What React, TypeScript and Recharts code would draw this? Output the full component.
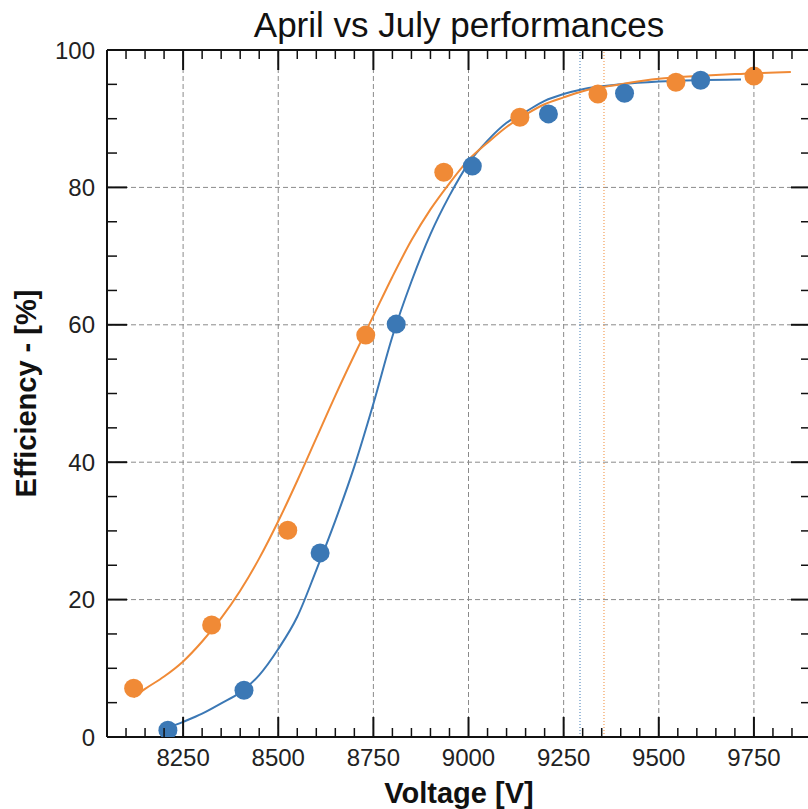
import React from 'react';
import {
  ComposedChart,
  Line,
  Scatter,
  XAxis,
  YAxis,
  ReferenceLine,
} from 'recharts';

const TITLE = 'April vs July performances';
const X_TITLE = 'Voltage [V]';
const Y_TITLE = 'Efficiency - [%]';

const BLUE = '#3b78b5';
const ORANGE = '#f08a36';

// measured points
const aprilVoltage = [8210, 8410, 8610, 8810, 9010, 9210, 9410, 9610];
const aprilEff = [1.0, 6.8, 26.8, 60.1, 83.1, 90.7, 93.7, 95.6];
const julyVoltage = [8120, 8325, 8525, 8730, 8935, 9135, 9340, 9545, 9750];
const julyEff = [7.1, 16.3, 30.1, 58.5, 82.2, 90.2, 93.6, 95.3, 96.2];

// fitted curves
const aprilFitVoltage = [8210, 8250, 8300, 8350, 8400, 8450, 8500, 8550, 8600, 8650, 8700, 8750, 8800, 8850, 8900, 8950, 9000, 9050, 9100, 9150, 9200, 9250, 9300, 9400, 9500, 9600, 9716];
const aprilFitEff = [1.3, 2.2, 3.4, 4.9, 6.5, 9.0, 12.8, 17.5, 24.3, 31.5, 39.4, 48.5, 58.3, 66.3, 73.2, 78.8, 83.5, 86.8, 89.4, 91.0, 92.6, 93.6, 94.3, 95.0, 95.4, 95.6, 95.7];
const julyFitVoltage = [8120, 8150, 8200, 8250, 8300, 8350, 8400, 8450, 8500, 8550, 8600, 8650, 8700, 8750, 8800, 8850, 8900, 8950, 9000, 9050, 9100, 9150, 9200, 9250, 9300, 9400, 9500, 9600, 9700, 9847];
const julyFitEff = [5.8, 7.0, 8.8, 11.0, 13.9, 17.3, 21.3, 26.0, 31.4, 37.3, 43.5, 49.7, 55.6, 61.3, 67.0, 72.3, 76.8, 80.6, 84.0, 86.5, 88.8, 90.6, 92.1, 93.1, 94.0, 95.0, 95.8, 96.2, 96.5, 96.8];

// thresholds (dotted verticals)
const aprilThreshold = 9293;
const julyThreshold = 9356;

const X_DOMAIN = [8050, 9900];
const xMajorTicks = [8250, 8500, 8750, 9000, 9250, 9500, 9750];
const yMajorTicks = [0, 20, 40, 60, 80, 100];
const xTicks: number[] = [];
for (let v = 8100; v <= 9850; v += 50) xTicks.push(v);
const yTicks: number[] = [];
for (let v = 0; v <= 100; v += 5) yTicks.push(v);

const zip = (xs: number[], ys: number[]) => xs.map((v, i) => ({ v, eff: ys[i] }));
const aprilPoints = zip(aprilVoltage, aprilEff);
const julyPoints = zip(julyVoltage, julyEff);
const aprilFit = zip(aprilFitVoltage, aprilFitEff);
const julyFit = zip(julyFitVoltage, julyFitEff);

const isMajorX = (v: number) => xMajorTicks.includes(v);
const isMajorY = (v: number) => yMajorTicks.includes(v);

const BottomTick = ({ x, y, payload }: any) => {
  const major = isMajorX(payload.value);
  return (
    <g>
      <line x1={x} y1={y} x2={x} y2={y - (major ? 20 : 9)} stroke="#111" strokeWidth={major ? 2 : 1.5} />
      {major && (
        <text x={x} y={y + 29} textAnchor="middle" fontSize={24} fill="#222">
          {payload.value}
        </text>
      )}
    </g>
  );
};

const TopTick = ({ x, y, payload }: any) => {
  const major = isMajorX(payload.value);
  return <line x1={x} y1={y} x2={x} y2={y + (major ? 20 : 9)} stroke="#111" strokeWidth={major ? 2 : 1.5} />;
};

const LeftTick = ({ x, y, payload }: any) => {
  const major = isMajorY(payload.value);
  return (
    <g>
      <line x1={x} y1={y} x2={x + (major ? 20 : 10)} y2={y} stroke="#111" strokeWidth={major ? 2 : 1.5} />
      {major && (
        <text x={x - 12} y={y + 8.5} textAnchor="end" fontSize={24} fill="#222">
          {payload.value}
        </text>
      )}
    </g>
  );
};

const RightTick = ({ x, y, payload }: any) => {
  const major = isMajorY(payload.value);
  return <line x1={x} y1={y} x2={x - (major ? 20 : 10)} y2={y} stroke="#111" strokeWidth={major ? 2 : 1.5} />;
};

const renderTitle = (props: any) => {
  const vb = props.viewBox;
  return (
    <text x={vb.x + vb.width / 2} y={37} textAnchor="middle" fontSize={35} fill="#111">
      {TITLE}
    </text>
  );
};

const renderXTitle = (props: any) => {
  const vb = props.viewBox;
  return (
    <text x={vb.x + vb.width / 2} y={vb.y + 66} textAnchor="middle" fontSize={29} fontWeight="bold" fill="#111">
      {X_TITLE}
    </text>
  );
};

const renderYTitle = (props: any) => {
  const vb = props.viewBox;
  const cx = 36;
  const cy = vb.y + vb.height / 2;
  return (
    <text x={cx} y={cy} transform={`rotate(-90, ${cx}, ${cy})`} textAnchor="middle" fontSize={29} fontWeight="bold" fill="#111">
      {Y_TITLE}
    </text>
  );
};

const dot = (color: string) => (p: any) => <circle cx={p.cx} cy={p.cy} r={9.5} fill={color} />;

const axisLine = { stroke: '#111', strokeWidth: 2 };

export default function App() {
  return (
    <div
      style={{
        position: 'absolute',
        left: 0,
        top: 0,
        width: 808,
        height: 809,
        overflow: 'hidden',
        background: '#fff',
        fontFamily: '"Liberation Sans", Arial, sans-serif',
      }}
    >
      <ComposedChart width={830} height={809} margin={{ top: 49, right: 18, bottom: 0, left: 7 }}>
        <XAxis
          xAxisId="x"
          dataKey="v"
          type="number"
          domain={X_DOMAIN}
          ticks={xTicks}
          interval={0}
          tickSize={0}
          tickMargin={0}
          tick={<BottomTick />}
          tickLine={false}
          axisLine={axisLine}
          height={72}
          allowDataOverflow
          label={renderXTitle}
        />
        <XAxis
          xAxisId="top"
          orientation="top"
          dataKey="v"
          type="number"
          domain={X_DOMAIN}
          ticks={xTicks}
          interval={0}
          tickSize={0}
          tickMargin={0}
          tick={<TopTick />}
          tickLine={false}
          axisLine={axisLine}
          height={1}
          allowDataOverflow
          label={renderTitle}
        />
        <YAxis
          yAxisId="y"
          type="number"
          domain={[0, 100]}
          ticks={yTicks}
          interval={0}
          tickSize={0}
          tickMargin={0}
          tick={<LeftTick />}
          tickLine={false}
          axisLine={axisLine}
          width={100}
          allowDataOverflow
          label={renderYTitle}
        />
        <YAxis
          yAxisId="r"
          orientation="right"
          type="number"
          domain={[0, 100]}
          ticks={yTicks}
          interval={0}
          tickSize={0}
          tickMargin={0}
          tick={<RightTick />}
          tickLine={false}
          axisLine={axisLine}
          width={1}
          allowDataOverflow
        />

        {xMajorTicks.map((v) => (
          <ReferenceLine key={'gx' + v} xAxisId="x" yAxisId="y" x={v} stroke="#8a8a8a" strokeDasharray="5 3" strokeWidth={1} />
        ))}
        {yMajorTicks.filter((v) => v > 0 && v < 100).map((v) => (
          <ReferenceLine key={'gy' + v} xAxisId="x" yAxisId="y" y={v} stroke="#8a8a8a" strokeDasharray="5 3" strokeWidth={1} />
        ))}
        <ReferenceLine xAxisId="x" yAxisId="y" x={aprilThreshold} stroke={BLUE} strokeDasharray="1 2" strokeWidth={1} />
        <ReferenceLine xAxisId="x" yAxisId="y" x={julyThreshold} stroke={ORANGE} strokeDasharray="1 2" strokeWidth={1} />

        <Line xAxisId="x" yAxisId="y" data={aprilFit} dataKey="eff" type="monotone" stroke={BLUE} strokeWidth={2} dot={false} activeDot={false} isAnimationActive={false} />
        <Line xAxisId="x" yAxisId="y" data={julyFit} dataKey="eff" type="monotone" stroke={ORANGE} strokeWidth={2} dot={false} activeDot={false} isAnimationActive={false} />
        <Scatter xAxisId="x" yAxisId="y" data={aprilPoints} dataKey="eff" fill={BLUE} shape={dot(BLUE)} isAnimationActive={false} />
        <Scatter xAxisId="x" yAxisId="y" data={julyPoints} dataKey="eff" fill={ORANGE} shape={dot(ORANGE)} isAnimationActive={false} />
      </ComposedChart>
    </div>
  );
}
